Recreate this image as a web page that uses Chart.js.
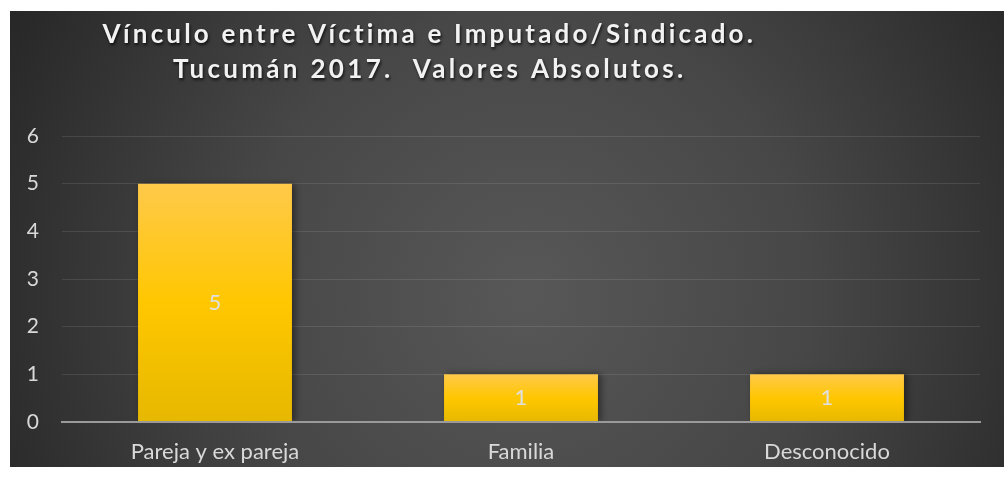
<!DOCTYPE html>
<html>
<head>
<meta charset="utf-8">
<script src="https://cdn.jsdelivr.net/npm/chart.js@4"></script>
<style>
  html, body { margin: 0; padding: 0; background: #fff; }
  #box { position: absolute; left: 10px; top: 11px; width: 994px; height: 456px; }
</style>
</head>
<body>
<div id="box"><canvas id="chart"></canvas></div>
<script>
const categories = ['Pareja y ex pareja', 'Familia', 'Desconocido']
const values = [5, 1, 1]
const yTicks = [0, 1, 2, 3, 4, 5, 6]
const titleLines = ['Vínculo entre Víctima e Imputado/Sindicado.', 'Tucumán 2017.  Valores Absolutos.']

const LABEL_COLOR = '#d9d9d9'
const FONT = 'Lato, "Open Sans", sans-serif'

// dark radial background, lighter in the middle
const backgroundPlugin = {
  id: 'bg',
  beforeDraw(chart) {
    const { ctx, width, height } = chart
    const g = ctx.createRadialGradient(width * 0.52, height * 0.62, 10, width * 0.52, height * 0.62, width * 0.62)
    g.addColorStop(0, '#575757')
    g.addColorStop(0.45, '#474747')
    g.addColorStop(1, '#242424')
    ctx.save()
    ctx.fillStyle = g
    ctx.fillRect(0, 0, width, height)
    ctx.restore()
  }
}

// spaced, shadowed title like the original
const titlePlugin = {
  id: 'spacedTitle',
  afterDraw(chart) {
    const { ctx } = chart
    const targets = [651, 510]
    const centerX = 418
    const baselines = [32, 67]
    ctx.save()
    ctx.font = 'bold 26px ' + FONT
    ctx.fillStyle = '#f2f2f2'
    ctx.textBaseline = 'alphabetic'
    ctx.textAlign = 'left'
    ctx.shadowColor = 'rgba(0,0,0,0.75)'
    ctx.shadowBlur = 3
    ctx.shadowOffsetX = 1
    ctx.shadowOffsetY = 2
    titleLines.forEach((line, i) => {
      ctx.letterSpacing = '0px'
      const w = ctx.measureText(line).width
      const sp = (targets[i] - w) / (line.length - 1)
      ctx.letterSpacing = sp.toFixed(2) + 'px'
      ctx.fillText(line, centerX - targets[i] / 2, baselines[i])
    })
    ctx.restore()
  }
}

// soft shadow behind the bars
const barShadow = {
  id: 'barShadow',
  beforeDatasetsDraw(chart) {
    const { ctx } = chart
    ctx.save()
    ctx.shadowColor = 'rgba(0,0,0,0.45)'
    ctx.shadowBlur = 7
    ctx.shadowOffsetX = 3
    ctx.shadowOffsetY = 0
  },
  afterDatasetsDraw(chart) {
    chart.ctx.restore()
  }
}

// value in the middle of each bar
const valueLabels = {
  id: 'valueLabels',
  afterDatasetsDraw(chart) {
    const { ctx } = chart
    const meta = chart.getDatasetMeta(0)
    ctx.save()
    ctx.font = '22px ' + FONT
    ctx.fillStyle = '#e0e0e0'
    ctx.textAlign = 'center'
    ctx.textBaseline = 'middle'
    meta.data.forEach((bar, i) => {
      const mid = (bar.y + bar.base) / 2
      ctx.fillText(String(values[i]), bar.x, mid)
    })
    ctx.restore()
  }
}

function barFill(context) {
  const chart = context.chart
  if (!chart.chartArea) return '#ffc000'
  const y = chart.scales.y
  const top = y.getPixelForValue(context.raw)
  const bottom = y.getPixelForValue(0)
  const g = chart.ctx.createLinearGradient(0, top, 0, bottom)
  g.addColorStop(0, '#ffc94a')
  g.addColorStop(0.5, '#ffc700')
  g.addColorStop(1, '#e6b800')
  return g
}

new Chart(document.getElementById('chart'), {
  type: 'bar',
  data: {
    labels: categories,
    datasets: [{
      data: values,
      backgroundColor: barFill,
      borderWidth: 0,
      categoryPercentage: 1,
      barPercentage: 0.503
    }]
  },
  options: {
    responsive: true,
    maintainAspectRatio: false,
    animation: false,
    layout: { padding: { top: 125, right: 24, left: 0, bottom: 0 } },
    plugins: {
      legend: { display: false },
      title: { display: false },
      tooltip: { enabled: false }
    },
    scales: {
      x: {
        grid: { display: false, drawTicks: false },
        border: { display: true, color: '#9a9a9a', width: 2, z: 1 },
        ticks: { color: LABEL_COLOR, font: { family: FONT, size: 22 }, padding: 17 },
        afterFit(scale) { scale.height = 45 }
      },
      y: {
        min: 0,
        max: 6,
        afterBuildTicks(scale) { scale.ticks = yTicks.map(v => ({ value: v })) },
        grid: { color: 'rgba(255,255,255,0.1)', lineWidth: 1, drawTicks: false },
        border: { display: false },
        ticks: { color: LABEL_COLOR, font: { family: FONT, size: 21 }, padding: 23 },
        afterFit(scale) { scale.width = 52 }
      }
    }
  },
  plugins: [backgroundPlugin, barShadow, valueLabels, titlePlugin]
})
</script>
</body>
</html>
